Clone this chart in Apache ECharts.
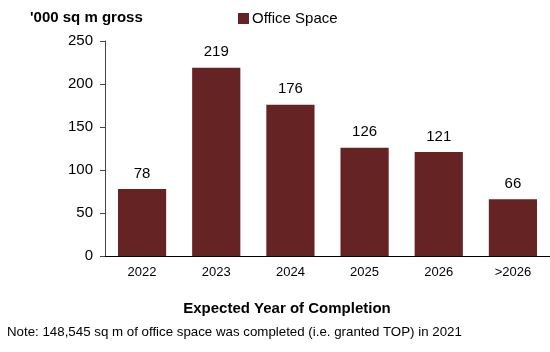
<!DOCTYPE html>
<html lang="en">
<head>
    <meta charset="UTF-8">
    <title>Office Space</title>
    <script src="https://cdn.jsdelivr.net/npm/echarts@6/dist/echarts.min.js"></script>
    <style>
        body { margin: 0; background: #fff; }
        #main { width: 550px; height: 352px; }
    </style>
</head>
<body>
<div id="main"></div>
<script type="text/javascript">
    // data
    var years = ['2022', '2023', '2024', '2025', '2026', '>2026'];
    var officeSpace = [78, 219, 176, 126, 121, 66];
    var yTicks = [0, 50, 100, 150, 200, 250];

    var font = 'Liberation Sans, Arial, sans-serif';
    var myChart = echarts.init(document.getElementById('main'));

    var option = {
        animation: false,
        textStyle: { fontFamily: font },
        title: [{
            text: "'000 sq m gross",
            left: 25, top: 5,
            textStyle: { fontSize: 15, fontWeight: 'bold', color: '#000', fontFamily: font }
        }, {
            text: 'Expected Year of Completion',
            left: 282, top: 296, textAlign: 'center',
            textStyle: { fontSize: 15, fontWeight: 'bold', color: '#000', fontFamily: font }
        }, {
            text: 'Note: 148,545 sq m of office space was completed (i.e. granted TOP) in 2021',
            left: 2, top: 321,
            textStyle: { fontSize: 13.3, fontWeight: 'normal', color: '#000', fontFamily: font }
        }],
        legend: {
            data: ['Office Space'],
            left: 233, top: 6,
            itemWidth: 11, itemHeight: 11, itemGap: 4,
            icon: 'rect',
            textStyle: { fontSize: 15, color: '#000', padding: [0, 0, 0, -2] }
        },
        grid: { left: 105, right: 0, top: 41, bottom: 96 },
        xAxis: {
            type: 'category',
            data: years,
            axisLine: { lineStyle: { color: '#000', width: 1 } },
            axisTick: { show: false },
            axisLabel: { fontSize: 13, color: '#000', margin: 10 }
        },
        yAxis: {
            type: 'value',
            min: yTicks[0], max: yTicks[yTicks.length - 1], interval: 50,
            splitLine: { show: false },
            axisLine: { show: true, lineStyle: { color: '#444' } },
            axisTick: { show: true, length: 5, lineStyle: { color: '#444' } },
            axisLabel: { fontSize: 15, color: '#000', margin: 12 }
        },
        series: [{
            name: 'Office Space',
            type: 'bar',
            data: officeSpace,
            barCategoryGap: '35%',
            itemStyle: { color: '#652323' },
            label: { show: true, position: 'top', distance: 8, fontSize: 15, color: '#000' }
        }]
    };
    myChart.setOption(option);
</script>
</body>
</html>
